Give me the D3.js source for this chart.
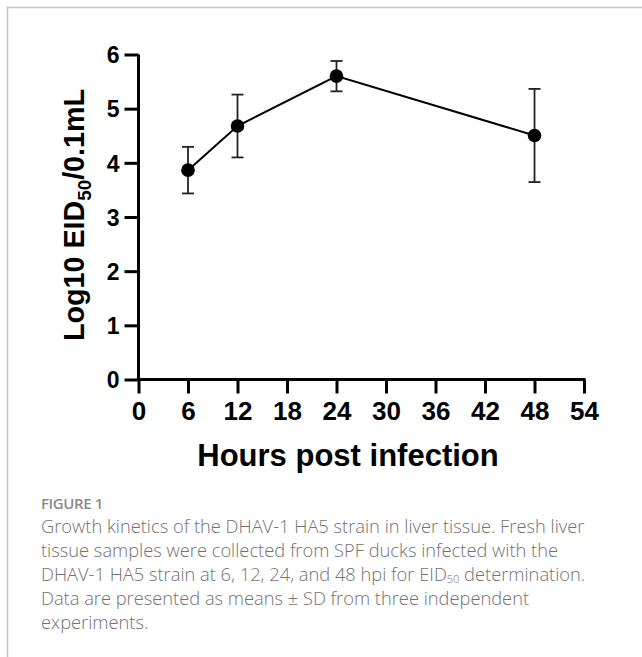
<!DOCTYPE html>
<html>
<head>
<meta charset="utf-8">
<script src="https://cdn.jsdelivr.net/npm/d3@7"></script>
<style>
  html, body { margin: 0; padding: 0; background: #fff; }
  svg { display: block; }
</style>
</head>
<body>
<div id="chart"></div>
<script>
// Values
const hours = [6, 12, 24, 48];
const meanLog = [3.865, 4.68, 5.60, 4.505];
const sdLog = [0.43, 0.58, 0.28, 0.86];
const xTicks = [0, 6, 12, 18, 24, 30, 36, 42, 48, 54];
const yTicks = [0, 1, 2, 3, 4, 5, 6];

const captionTitle = 'FIGURE 1';
const captionLines = [
    'Growth kinetics of the DHAV-1 HA5 strain in liver tissue. Fresh liver',
    'tissue samples were collected from SPF ducks infected with the',
    ['DHAV-1 HA5 strain at 6, 12, 24, and 48 hpi for EID', '50', ' determination.'],
    'Data are presented as means \u00B1 SD from three independent',
    'experiments.'
];

const W = 642, H = 657;
const plot = { left: 138.5, right: 584, top: 54.5, bottom: 379.5 };

const svg = d3.select('#chart').append('svg')
    .attr('width', W)
    .attr('height', H);

// Page frame (top + left rule)
svg.append('path')
    .attr('d', `M7.5,${H} V7.5 H${W}`)
    .attr('fill', 'none')
    .attr('stroke', '#c4c4c4')
    .attr('stroke-width', 1.5);

const x = d3.scaleLinear().domain([0, 54]).range([plot.left, plot.right]);
const y = d3.scaleLinear().domain([0, 6]).range([plot.bottom, plot.top]);

// Axes
const xAxis = svg.append('g')
    .attr('transform', `translate(0,${plot.bottom})`)
    .call(d3.axisBottom(x).tickValues(xTicks).tickFormat(d3.format('d'))
        .tickSize(14).tickPadding(8).tickSizeOuter(0));

const yAxis = svg.append('g')
    .attr('transform', `translate(${plot.left},0)`)
    .call(d3.axisLeft(y).tickValues(yTicks).tickFormat(d3.format('d'))
        .tickSize(14).tickPadding(5).tickSizeOuter(0));

[xAxis, yAxis].forEach(g => {
    g.select('.domain').attr('stroke', '#000').attr('stroke-width', 3);
    g.selectAll('.tick line').attr('stroke', '#000').attr('stroke-width', 3);
    g.selectAll('.tick text')
        .attr('fill', '#000')
        .style('font-family', '"Liberation Sans", Arial, sans-serif')
        .style('font-weight', 'bold');
});
xAxis.selectAll('.tick text').style('font-size', '26px');
yAxis.selectAll('.tick text').style('font-size', '23px').attr('dy', '0.36em');
// extend the axis lines so they meet in the corner
xAxis.select('.domain').attr('d', `M${plot.left - 1.5},0H${plot.right + 1.5}`);
yAxis.select('.domain').attr('d', `M0,${plot.top}V${plot.bottom + 1.5}`);

// Axis titles
svg.append('text')
    .attr('x', 348)
    .attr('y', 466)
    .attr('text-anchor', 'middle')
    .style('font-family', '"Liberation Sans", Arial, sans-serif')
    .style('font-weight', 'bold')
    .style('font-size', '31px')
    .text('Hours post infection');

const yTitle = svg.append('text')
    .attr('transform', `translate(84,${(plot.top + plot.bottom) / 2 - 2}) rotate(-90)`)
    .attr('text-anchor', 'middle')
    .attr('textLength', 252)
    .attr('lengthAdjust', 'spacingAndGlyphs')
    .style('font-family', '"Liberation Sans", Arial, sans-serif')
    .style('font-weight', 'bold')
    .style('font-size', '29px');
yTitle.append('tspan').text('Log10 EID');
yTitle.append('tspan').attr('dy', 7).style('font-size', '19px').text('50');
yTitle.append('tspan').attr('dy', -7).text('/0.1mL');

// Data
const points = hours.map((h, i) => ({ h, m: meanLog[i], sd: sdLog[i] }));

// Error bars
const err = svg.append('g').attr('stroke', '#222').attr('stroke-width', 1.8);
points.forEach(p => {
    const cx = x(p.h);
    const y1 = y(p.m + p.sd);
    const y2 = y(p.m - p.sd);
    err.append('line').attr('x1', cx).attr('x2', cx).attr('y1', y1).attr('y2', y2);
    err.append('line').attr('x1', cx - 6).attr('x2', cx + 6).attr('y1', y1).attr('y2', y1);
    err.append('line').attr('x1', cx - 6).attr('x2', cx + 6).attr('y1', y2).attr('y2', y2);
});

// Mean line
svg.append('path')
    .datum(points)
    .attr('fill', 'none')
    .attr('stroke', '#000')
    .attr('stroke-width', 2)
    .attr('d', d3.line().x(d => x(d.h)).y(d => y(d.m)));

svg.append('g').selectAll('circle')
    .data(points)
    .join('circle')
    .attr('cx', d => x(d.h))
    .attr('cy', d => y(d.m))
    .attr('r', 6.8)
    .attr('fill', '#000');

// Caption
svg.append('text')
    .attr('x', 41)
    .attr('y', 509)
    .attr('fill', '#8a8a8a')
    .style('font-family', '"Open Sans", sans-serif')
    .style('font-weight', 600)
    .style('font-size', '15px')
    .style('letter-spacing', '-0.4px')
    .text(captionTitle);

const cap = svg.append('g')
    .attr('fill', '#727272')
    .style('font-family', '"Open Sans", sans-serif')
    .style('font-weight', 300)
    .style('font-size', '18.3px');

captionLines.forEach((line, i) => {
    const t = cap.append('text').attr('x', 41).attr('y', 532.5 + i * 24.2);
    if (Array.isArray(line)) {
        t.append('tspan').text(line[0]);
        t.append('tspan').attr('dy', 2).style('font-size', '11px').text(line[1]);
        t.append('tspan').attr('dy', -2).text(line[2]);
    } else {
        t.text(line);
    }
});
</script>
</body>
</html>
